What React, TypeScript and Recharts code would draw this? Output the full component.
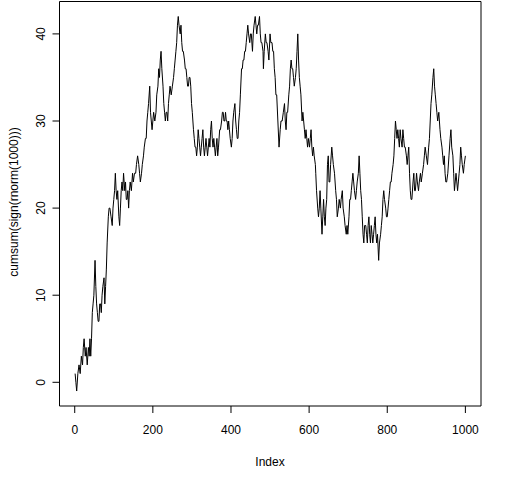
import React from "react";
import { LineChart, Line, XAxis, YAxis, ReferenceArea } from "recharts";

// index positions, with the walk's value at each
const steps = [
  1, 3, 5, 8, 11, 14, 17, 20, 22, 24, 27, 29, 32, 35, 37, 39, 41, 43, 45, 47, 49, 52, 54, 56, 58, 60, 62, 64, 66, 68,
  70, 72, 75, 77, 79, 81, 83, 86, 88, 90, 93, 96, 98, 100, 102, 104, 106, 108, 110, 113, 115, 117, 119, 121, 123, 125,
  128, 130, 132, 134, 136, 138, 140, 142, 145, 148, 150, 153, 156, 158, 161, 164, 166, 168, 171, 173, 176, 178, 181,
  183, 185, 187, 189, 192, 194, 196, 198, 200, 202, 205, 208, 210, 213, 215, 217, 219, 221, 223, 226, 228, 230, 232,
  234, 236, 238, 240, 242, 244, 247, 250, 253, 255, 257, 259, 261, 263, 265, 267, 270, 272, 274, 276, 278, 281, 283,
  285, 287, 289, 291, 293, 295, 297, 299, 301, 304, 306, 308, 310, 312, 314, 316, 318, 320, 322, 324, 326, 328, 330,
  332, 334, 336, 338, 340, 342, 344, 346, 348, 350, 352, 354, 356, 358, 360, 362, 364, 366, 368, 371, 373, 376, 378,
  380, 382, 384, 386, 388, 390, 392, 394, 396, 398, 401, 403, 405, 407, 410, 412, 414, 416, 418, 420, 422, 424, 427,
  429, 431, 433, 435, 437, 439, 441, 443, 445, 448, 450, 452, 455, 457, 459, 462, 464, 466, 468, 470, 473, 475, 477,
  479, 482, 483, 485, 488, 490, 492, 495, 497, 500, 502, 505, 507, 509, 511, 513, 515, 517, 520, 523, 526, 528, 531,
  534, 537, 539, 541, 543, 545, 548, 550, 552, 554, 556, 558, 560, 562, 565, 567, 569, 571, 573, 575, 577, 579, 582,
  584, 586, 588, 590, 592, 594, 596, 598, 601, 603, 605, 607, 609, 611, 613, 616, 617, 619, 622, 624, 626, 628, 630,
  633, 635, 637, 639, 641, 643, 645, 647, 649, 651, 653, 655, 658, 660, 662, 665, 668, 670, 672, 675, 677, 680, 682,
  685, 687, 690, 692, 695, 697, 699, 702, 704, 706, 708, 710, 712, 714, 716, 719, 721, 723, 726, 728, 730, 732, 734,
  736, 738, 740, 742, 745, 747, 749, 751, 753, 755, 757, 759, 761, 763, 765, 767, 769, 771, 773, 775, 778, 780, 783,
  785, 787, 789, 791, 793, 796, 798, 800, 802, 804, 806, 808, 810, 812, 815, 817, 819, 821, 823, 825, 827, 829, 831,
  833, 835, 838, 840, 842, 844, 846, 849, 851, 853, 855, 857, 859, 861, 863, 866, 868, 870, 872, 875, 877, 880, 882,
  885, 887, 890, 893, 895, 897, 900, 903, 906, 908, 910, 912, 914, 917, 919, 921, 923, 925, 927, 929, 932, 935, 937,
  940, 942, 944, 946, 948, 950, 952, 955, 958, 961, 963, 965, 968, 970, 972, 974, 976, 978, 980, 982, 984, 986, 988,
  990, 992, 995, 997, 1000,
];

const walk = [
  1, 0, -1, 1, 2, 1, 3, 2, 4, 5, 3, 4, 2, 4, 3, 5, 3, 5, 8, 9, 10, 14, 11, 9, 8, 7, 7, 9, 9, 8,
  10, 11, 12, 9, 11, 13, 16, 19, 20, 20, 19, 18, 20, 21, 22, 24, 22, 21, 22, 19, 18, 20, 22, 23, 22, 24,
  22, 23, 21, 21, 22, 20, 22, 23, 22, 24, 23, 24, 24, 25, 26, 25, 24, 23, 24, 25, 26, 27, 28,
  28, 30, 31, 32, 34, 31, 30, 29, 30, 31, 30, 31, 33, 34, 36, 35, 37, 38, 36, 34, 32, 31, 30,
  31, 31, 30, 32, 33, 34, 33, 34, 35, 36, 37, 38, 39, 41, 42, 41, 40, 41, 39, 38, 38, 37, 36,
  36, 35, 34, 34, 35, 35, 34, 32, 31, 29, 28, 27, 27, 26, 27, 29, 28, 27, 26, 27, 28, 29, 27,
  26, 27, 28, 27, 26, 27, 28, 27, 29, 30, 28, 27, 28, 27, 26, 27, 28, 26, 27, 29, 29, 30, 31,
  31, 30, 30, 31, 30, 30, 29, 30, 29, 28, 27, 28, 30, 31, 32, 30, 29, 28, 28, 30, 31, 33, 36,
  36, 37, 37, 38, 38, 39, 40, 41, 40, 39, 40, 40, 38, 40, 41, 42, 41, 40, 41, 41, 42, 40, 39,
  39, 38, 36, 38, 40, 39, 39, 38, 37, 40, 39, 39, 38, 38, 36, 35, 33, 33, 30, 27, 29, 30, 30,
  31, 32, 30, 29, 31, 31, 33, 34, 36, 37, 36, 36, 35, 34, 35, 36, 38, 40, 37, 35, 34, 33, 30,
  31, 30, 29, 28, 29, 28, 27, 28, 27, 28, 29, 27, 26, 27, 26, 25, 24, 22, 20, 19, 20, 22, 20,
  17, 19, 21, 19, 18, 20, 21, 25, 26, 23, 23, 25, 27, 26, 25, 24, 22, 21, 19, 20, 21, 20, 21,
  22, 20, 19, 18, 17, 18, 17, 19, 21, 21, 22, 23, 24, 23, 22, 21, 22, 23, 24, 26, 24, 22, 21,
  19, 17, 16, 18, 18, 17, 16, 18, 19, 17, 16, 18, 17, 16, 17, 18, 19, 17, 16, 17, 14, 16, 17,
  18, 19, 21, 22, 21, 20, 19, 19, 20, 21, 22, 23, 23, 24, 25, 26, 28, 30, 29, 28, 29, 28, 27,
  29, 28, 27, 29, 28, 27, 27, 26, 25, 26, 27, 24, 22, 21, 21, 23, 24, 22, 22, 24, 23, 22, 23,
  24, 23, 24, 25, 26, 27, 26, 25, 27, 28, 30, 32, 33, 35, 36, 34, 33, 32, 31, 30, 31, 29, 28,
  27, 26, 25, 26, 24, 23, 23, 24, 26, 28, 29, 27, 26, 24, 22, 23, 24, 23, 22, 23, 24, 25, 27,
  26, 25, 24, 25, 26,
];

const xTicks = [0, 200, 400, 600, 800, 1000];
const yTicks = [0, 10, 20, 30, 40];

const data = steps.map((s, i) => ({ index: s, value: walk[i] }));

const font = "'Liberation Sans', Arial, sans-serif";

const XTick = (props: any) => {
  const { x, y, payload } = props;
  return (
    <text x={x} y={y + 21} textAnchor="middle" fontFamily={font} fontSize={12} fill="#000">
      {payload.value}
    </text>
  );
};

const YTick = (props: any) => {
  const { x, y, payload } = props;
  const tx = x - 7.5;
  return (
    <text
      x={tx}
      y={y}
      transform={`rotate(-90, ${tx}, ${y})`}
      textAnchor="middle"
      fontFamily={font}
      fontSize={12}
      fill="#000"
    >
      {payload.value}
    </text>
  );
};

const XTitle = () => (
  <text x={270} y={466} textAnchor="middle" fontFamily={font} fontSize={12} fill="#000">
    Index
  </text>
);

const YTitle = () => (
  <text
    x={18}
    y={202}
    transform="rotate(-90, 18, 202)"
    textAnchor="middle"
    fontFamily={font}
    fontSize={12}
    fill="#000"
  >
    cumsum(sign(rnorm(1000)))
  </text>
);

export default function App() {
  return (
    <div style={{ position: "absolute", left: 0, top: 0, background: "#fff" }}>
      <LineChart width={512} height={480} data={data} margin={{ top: 1.5, right: 31, left: 0, bottom: 0 }}>
        <XAxis
          dataKey="index"
          type="number"
          domain={[-38.96, 1039.96]}
          ticks={xTicks}
          allowDataOverflow
          axisLine={false}
          tickLine={{ stroke: "#000" }}
          tickSize={7}
          tickMargin={0}
          height={74}
          tick={<XTick />}
          label={{ content: () => <XTitle /> }}
        />
        <YAxis
          type="number"
          domain={[-2.72, 43.72]}
          ticks={yTicks}
          allowDataOverflow
          axisLine={false}
          tickLine={{ stroke: "#000" }}
          tickSize={7}
          tickMargin={0}
          width={59.5}
          tick={<YTick />}
          label={{ content: () => <YTitle /> }}
        />
        <ReferenceArea
          x1={-38.96}
          x2={1039.96}
          y1={-2.72}
          y2={43.72}
          fill="none"
          stroke="#000"
          strokeWidth={1}
          fillOpacity={0}
          strokeOpacity={1}
          ifOverflow="visible"
        />
        <Line
          type="linear"
          dataKey="value"
          stroke="#000"
          strokeWidth={1}
          dot={false}
          isAnimationActive={false}
        />
      </LineChart>
    </div>
  );
}
